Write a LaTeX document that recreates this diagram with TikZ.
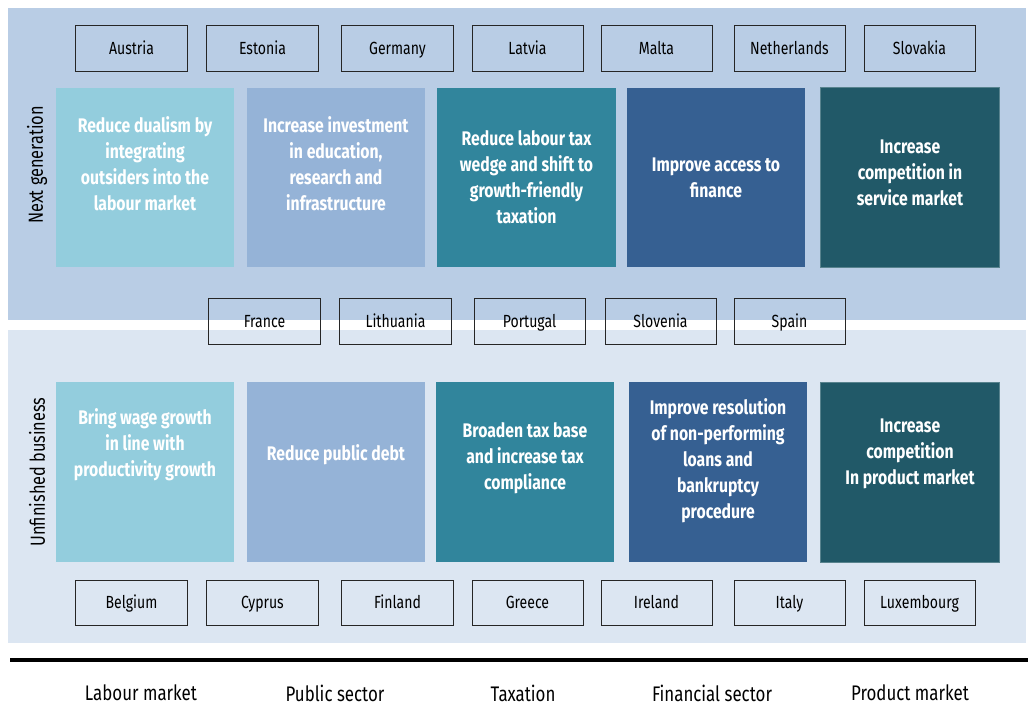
\documentclass[tikz,border=0pt]{standalone}
\usepackage{fontspec}
\setmainfont{Fira Sans}[FakeStretch=0.8]
\usetikzlibrary{positioning}

\definecolor{bandtop}{HTML}{B9CDE5}
\definecolor{bandbot}{HTML}{DCE6F2}
\definecolor{labourc}{HTML}{93CDDD}
\definecolor{publicc}{HTML}{95B3D7}
\definecolor{taxc}{HTML}{31859C}
\definecolor{financec}{HTML}{366092}
\definecolor{productc}{HTML}{215968}

\tikzset{
	ctry/.style={draw=black!85, line width=0.7pt, minimum width=2.775cm, minimum height=1.125cm, inner sep=0pt, text height=10pt, text depth=1.5pt, font=\fontsize{12.5}{14}\selectfont},
	cell/.style={fill=#1, minimum width=4.45cm, minimum height=4.475cm, inner sep=0pt},
	celltxt/.style={text=white, align=center, inner sep=0pt, font=\bfseries\fontsize{14}{18.5}\selectfont},
	sector/.style={font=\fontsize{15}{18}\selectfont},
	rowlab/.style={rotate=90, font=\fontsize{14.5}{17}\selectfont}
}

\begin{document}
\begin{tikzpicture}[x=0.025cm, y=-0.025cm]
	\useasboundingbox (0,0) rectangle (1031,707);
	% bands
	\fill[bandtop] (8,8) rectangle (1026,320);
	\fill[bandbot] (8,330) rectangle (1026,643);
	\draw[line width=2.2pt] (10,660) -- (1028,660);
	% next generation
	\foreach \n/\x/\c/\ty/\txt in {
		a/145/labourc/164/{Reduce dualism by\\integrating\\outsiders into the\\labour market},
		b/336/publicc/164/{Increase investment\\in education,\\research and\\infrastructure},
		c/526.5/taxc/177/{Reduce labour tax\\wedge and shift to\\growth-friendly\\taxation},
		d/716/financec/178/{Improve access to\\finance},
		e/910/productc/173/{Increase\\competition in\\service market}} {
		\node[cell=\c] (top\n) at (\x,177.5) {};
		\node[celltxt] (topt\n) at (\x,\ty) {\txt};
	}
	% unfinished business
	\foreach \n/\x/\c/\ty/\txt in {
		a/145/labourc/445/{Bring wage growth\\in line with\\productivity growth},
		b/336/publicc/455/{Reduce public debt},
		c/525/taxc/458/{Broaden tax base\\and increase tax\\compliance},
		d/718/financec/461/{Improve resolution\\of non-performing\\loans and\\bankruptcy\\procedure},
		e/910/productc/454/{Increase\\competition\\In product market}} {
		\node[cell=\c] (bot\n) at (\x,472) {};
		\node[celltxt] (bott\n) at (\x,\ty) {\txt};
	}
	% thin edge on the product boxes
	\draw[productc!75!white, line width=0.4pt] (tope.south west) rectangle (tope.north east);
	\draw[productc!75!white, line width=0.4pt] (bote.south west) rectangle (bote.north east);
	% countries
	\foreach \x/\name in {131.5/Austria, 262.5/Estonia, 397.5/Germany, 527.5/Latvia, 656.5/Malta, 789.5/Netherlands, 919.5/Slovakia}
		\node[ctry] (\name) at (\x,48.5) {\name};
	\foreach \x/\name in {264.5/France, 395.5/Lithuania, 529.5/Portugal, 660.5/Slovenia, 789.5/Spain}
		\node[ctry] (\name) at (\x,321.5) {\name};
	\foreach \x/\name in {131.5/Belgium, 262.5/Cyprus, 397.5/Finland, 527.5/Greece, 656.5/Ireland, 789.5/Italy, 919.5/Luxembourg}
		\node[ctry] (\name) at (\x,602.5) {\name};
	% row and column labels
	\node[rowlab] (nextgen) at (37,165) {Next generation};
	\node[rowlab] (unfin) at (37,472) {Unfinished business};
	\foreach \x/\lab/\nm in {141/Labour market/lab, 335/Public sector/pub, 523/Taxation/tax, 712/Financial sector/fin, 910/Product market/prod}
		\node[sector] (\nm) at (\x,693) {\lab};
\end{tikzpicture}
\end{document}
